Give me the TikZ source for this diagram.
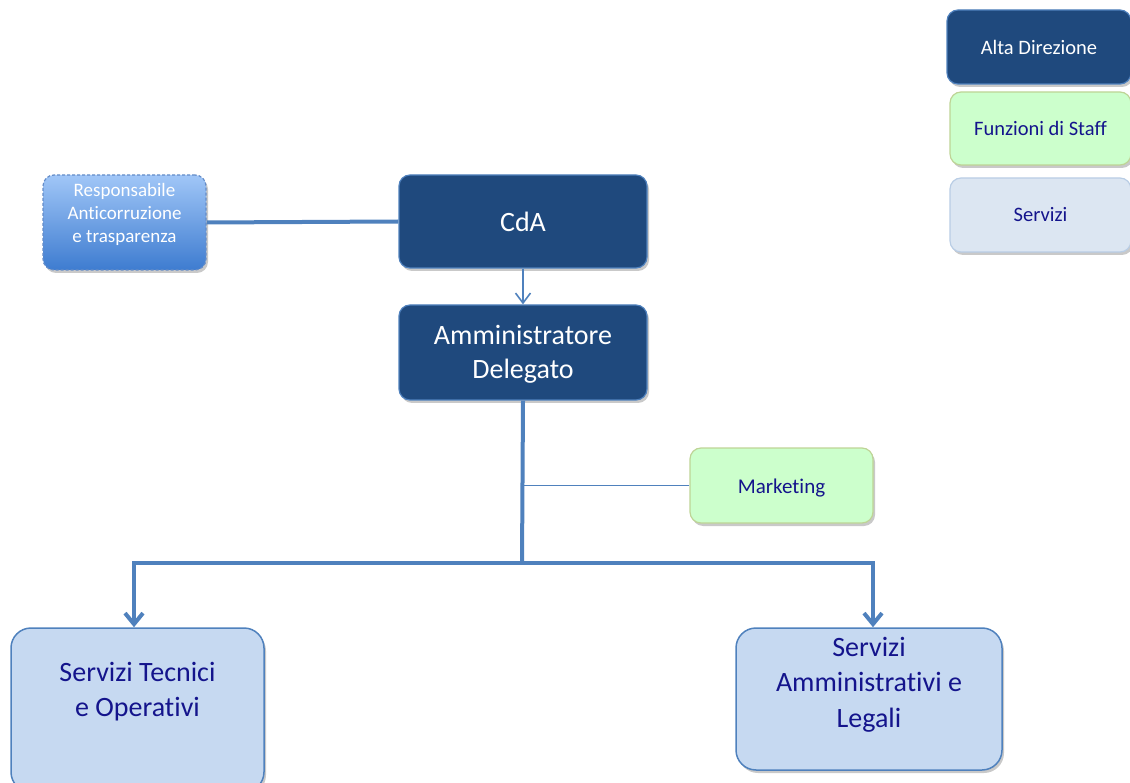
\documentclass[tikz,border=0pt]{standalone}
\usepackage{fontspec}
\setmainfont{Carlito}[Ligatures={NoCommon}]
\usetikzlibrary{arrows.meta,shadows}
\definecolor{navy}{RGB}{31,73,125}
\definecolor{edgeblue}{RGB}{79,129,189}
\definecolor{lineblue}{RGB}{79,129,189}
\definecolor{txtnavy}{RGB}{20,20,140}
\definecolor{staffgreen}{RGB}{204,255,204}
\definecolor{staffedge}{RGB}{190,212,150}
\definecolor{servfill}{RGB}{198,217,241}
\definecolor{legservfill}{RGB}{220,230,242}
\definecolor{legservedge}{RGB}{185,205,229}
\definecolor{respedge}{RGB}{100,140,200}
\definecolor{resptop}{RGB}{160,198,247}
\definecolor{respbot}{RGB}{62,124,208}
\begin{document}
\begin{tikzpicture}[x=1pt,y=-1pt,
  shad/.style={drop shadow={shadow xshift=2pt,shadow yshift=-3pt,opacity=0.3,fill=black!70}},
  navybox/.style={shad,draw=edgeblue,line width=1.2pt,fill=navy,rounded corners=11pt,
    text=white,inner sep=0pt,align=center,font=\fontsize{28}{34}\selectfont},
  legnavy/.style={navybox,font=\fontsize{20.5}{24}\selectfont},
  staffbox/.style={shad,draw=staffedge,line width=1.2pt,fill=staffgreen,rounded corners=11pt,
    text=txtnavy,inner sep=0pt,align=center},
  legserv/.style={shad,draw=legservedge,line width=1.2pt,fill=legservfill,rounded corners=11pt,
    text=txtnavy,inner sep=0pt,align=center,font=\fontsize{20.5}{24}\selectfont},
  servbox/.style={shad,draw=edgeblue,line width=1.5pt,fill=servfill,rounded corners=20pt,
    text=txtnavy,inner sep=0pt,font=\fontsize{28}{35.5}\selectfont},
  respbox/.style={shad,draw=respedge,line width=1.2pt,dash pattern=on 3pt off 2pt,
    top color=resptop,bottom color=respbot,rounded corners=11pt,
    text=white,inner sep=0pt,font=\fontsize{19}{23}\selectfont},
  conn/.style={draw=lineblue,line width=4pt},
  thinconn/.style={draw=lineblue,line width=1.6pt},
  bigtip/.style={-{Straight Barb[length=11pt,width=18pt]}},
  smalltip/.style={-{Straight Barb[length=10pt,width=15pt]}}
]
\useasboundingbox (0,0) rectangle (1130,783);

\coordinate (j) at (522,563);
\node[respbox,minimum width=163pt,minimum height=95pt] (resp) at (124.5,222.5)
  {\parbox[c][95pt][t]{160pt}{\centering\vspace{8pt}Responsabile\\Anticorruzione\\e trasparenza}};
\node[navybox,minimum width=248pt,minimum height=93pt] (cda) at (523,221.5) {CdA};
\node[navybox,minimum width=248pt,minimum height=95pt] (ad) at (523,352.5)
  {\parbox[c][95pt][t]{240pt}{\centering\vspace{20pt}Amministratore\\Delegato}};
\node[staffbox,minimum width=183pt,minimum height=75pt,font=\fontsize{21}{25}\selectfont,
  text height=21pt,text depth=4.5pt] (mk) at (781.5,485.5) {Marketing};

\node[legnavy,minimum width=184pt,minimum height=74pt] (lad) at (1039,47) {Alta Direzione};
\node[staffbox,minimum width=181pt,minimum height=73pt,font=\fontsize{20.5}{24}\selectfont] (lfs) at (1040.5,128.5) {Funzioni di Staff};
\node[legserv,minimum width=181pt,minimum height=74pt] (lsv) at (1040.5,215) {Servizi};

\node[servbox,minimum width=253pt,minimum height=164pt] (sto) at (137.5,710)
  {\parbox[c][164pt][t]{250pt}{\centering\vspace{34pt}Servizi Tecnici\\ e Operativi}};
\node[servbox,minimum width=266pt,minimum height=142pt] (sal) at (869,699)
  {\parbox[c][142pt][t]{262pt}{\centering\vspace{9pt}Servizi\\Amministrativi e\\Legali}};

\draw[conn] (resp.east) -- (cda.west);
\draw[thinconn,smalltip] (cda.south) -- (ad.north);
\draw[conn] (ad.south) -- (j);
\draw[thinconn] (mk.west) -- (mk.west -| j);
\draw[conn,bigtip] (j) -| ([xshift=-3.5pt]sto.north);
\draw[conn,bigtip] (j) -| ([xshift=4pt]sal.north);
\end{tikzpicture}
\end{document}
